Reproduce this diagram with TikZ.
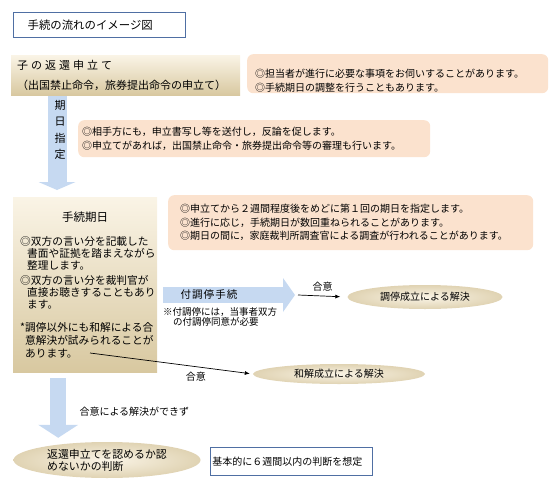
\documentclass[tikz,border=0pt]{standalone}
\usepackage{fontspec}
\setmainfont{Noto Sans CJK JP}
\usetikzlibrary{arrows.meta,shapes.geometric,positioning}
\definecolor{peach}{HTML}{FBE2CE}
\definecolor{tanlight}{HTML}{FAF4E6}
\definecolor{tandark}{HTML}{D8C8A0}
\definecolor{flowblue}{HTML}{C6D9F1}
\definecolor{frameblue}{HTML}{4F6FA3}
\begin{document}
\begin{tikzpicture}[x=1pt,y=-1pt,
note/.style={fill=peach,rounded corners=6pt,anchor=north west,align=left,font=\fontsize{10}{13.5}\selectfont},
tanbox/.style={top color=tanlight,bottom color=tandark,anchor=north west,inner sep=0pt},
result/.style={ellipse,inner color=tanlight,outer color=tandark!80,inner sep=0pt,font=\fontsize{10}{12}\selectfont},
framebox/.style={draw=frameblue,anchor=north west,align=left},
thinarrow/.style={draw=black,line width=0.7pt,-{Latex[length=5pt,width=4pt]}},
gouilabel/.style={font=\fontsize{10}{12}\selectfont}]
\useasboundingbox (0,0) rectangle (560,490);

\node[framebox,line width=1.3pt,minimum width=172,minimum height=25,text width=144,inner xsep=14pt,font=\fontsize{11.4}{13}\selectfont] (title) at (13,12) {手続の流れのイメージ図};

\node[tanbox,minimum width=229,minimum height=40,text width=217,inner xsep=6pt,align=left,font=\fontsize{11}{20}\selectfont] (petition) at (11,55)
  {{\addfontfeature{LetterSpace=27}子の返還申立て}\\（出国禁止命令，旅券提出命令の申立て）};
\node[note,minimum height=39,text width=285,inner xsep=8pt,text depth=0pt] (tantou) at (247,54)
  {◎担当者が進行に必要な事項をお伺いすることがあります。\\◎手続期日の調整を行うこともあります。};

\node[tanbox,minimum width=144,minimum height=175] (kijitsu) at (13,197) {};
\node[font=\fontsize{11.5}{13}\selectfont] (kijitsutitle) at (85,217) {手続期日};
\node[anchor=north west,inner sep=0pt,align=left,font=\fontsize{10.7}{12}\selectfont] (kijitsutext) at (20,236)
  {◎双方の言い分を記載した\\
   \hspace*{7pt}書面や証拠を踏まえながら\\
   \hspace*{7pt}整理します。\\[3pt]
   ◎双方の言い分を裁判官が\\
   \hspace*{7pt}直接お聴きすることもあり\\
   \hspace*{7pt}ます。\\[11pt]
   *調停以外にも和解による合\\[1pt]
   \hspace*{5pt}意解決が試みられることが\\[1pt]
   \hspace*{5pt}あります。};

\coordinate (shitei) at (57,96);
\draw[draw=flowblue,line width=19pt,-{Triangle[width=37pt,length=8pt,line width=0pt]},shorten >=7pt] (shitei) -- (shitei |- kijitsu.north);
\node[align=center,font=\fontsize{11}{16.5}\selectfont] (shiteitext) at (60,130) {期\\日\\指\\定};
\node[note,minimum height=37,text width=344,inner xsep=4pt] (aitegata) at (78,120)
  {◎相手方にも，申立書写し等を送付し，反論を促します。\\◎申立てがあれば，出国禁止命令・旅券提出命令等の審理も行います。};

\node[note,minimum height=55,text width=341,inner xsep=12pt] (dai1kai) at (168,195)
  {◎申立てから２週間程度後をめどに第１回の期日を指定します。\\◎進行に応じ，手続期日が数回重ねられることがあります。\\◎期日の間に，家庭裁判所調査官による調査が行われることがあります。};

\coordinate (chotei) at (163,295);
\coordinate (choteitip) at (295,295);
\draw[draw=flowblue,line width=16pt,-{Triangle[width=34pt,length=12pt,line width=0pt]}] (chotei) -- (choteitip);
\node[font=\fontsize{10.5}{12}\selectfont] (choteitext) at (209,295) {\addfontfeature{LetterSpace=10}付調停手続};
\node[anchor=north west,fill=white,inner sep=0pt,align=left,font=\fontsize{9.5}{10.5}\selectfont] (choteinote) at (163,307)
  {※付調停には，当事者双方\\\hspace*{10pt}の付調停同意が必要};

\node[result,minimum width=155,minimum height=24] (choteiseiritsu) at (425,297) {調停成立による解決};
\draw[thinarrow,shorten >=7pt] ([xshift=3pt]choteitip) -- node[gouilabel,above=1pt] (goui1) {合意} (choteiseiritsu.west);

\node[result,minimum width=172,minimum height=20] (wakaiseiritsu) at (339,374) {和解成立による解決};
\coordinate (wakai) at (90,353);
\draw[thinarrow,shorten >=3pt] (wakai) -- node[gouilabel,pos=0.65,below=2pt] (goui2) {合意} (wakaiseiritsu.west);

\node[result,minimum width=187,minimum height=36,align=left,font=\fontsize{10.9}{12}\selectfont] (handan) at (107,460)
  {返還申立てを認めるか認\\めないかの判断};
\draw[draw=flowblue,line width=16pt,-{Triangle[width=40pt,length=13pt,line width=0pt]},shorten >=4pt] ([xshift=-27pt,yshift=-6pt]kijitsu.south) -- ([xshift=-27pt]kijitsu.south |- handan.north);
\node[anchor=west,gouilabel] (fuseiritsu) at (76,412) {合意による解決ができず};

\node[framebox,line width=0.8pt,minimum height=28,text width=158,inner xsep=2pt,font=\fontsize{10}{12}\selectfont] (rokushukan) at (210,447) {基本的に６週間以内の判断を想定};
\end{tikzpicture}
\end{document}
